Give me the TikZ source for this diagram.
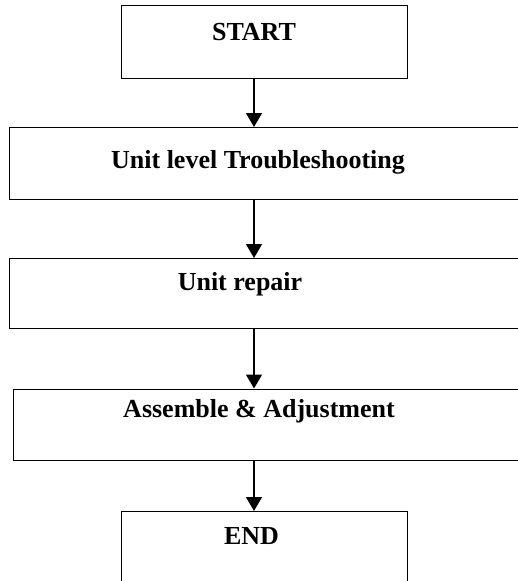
\documentclass[tikz,border=0pt]{standalone}
\usepackage{fontspec}
\setmainfont{Liberation Serif}
\usetikzlibrary{positioning,arrows.meta}
\tikzset{
  stepbox/.style={draw=black, line width=1.4pt, inner sep=0pt, anchor=north west},
  steplabel/.style={font=\fontsize{26}{30}\selectfont\bfseries, inner sep=0pt, anchor=base},
  flowarrow/.style={line width=1.4pt, -{Triangle[width=16pt,length=14pt]}}
}

\begin{document}
\begin{tikzpicture}[x=1pt, y=-1pt]
    \useasboundingbox (0,0) rectangle (518,581);
    \clip (0,0) rectangle (518,581);
    \coordinate (axis) at (254,0);
    \node[stepbox, minimum width=286pt, minimum height=73pt] (start) at (121,5) {};
    \node[stepbox, minimum width=530pt, minimum height=72pt] (trouble) at (9,127) {};
    \node[stepbox, minimum width=530pt, minimum height=70pt] (repair) at (9,258) {};
    \node[stepbox, minimum width=530pt, minimum height=71.5pt] (assemble) at (12.5,388.5) {};
    \node[stepbox, minimum width=286pt, minimum height=90pt] (finish) at (121,511) {};
    \node[steplabel] (startlabel) at (254,40) {START};
    \node[steplabel] (troublelabel) at (258,168.5) {Unit level Troubleshooting};
    \node[steplabel] (repairlabel) at (240,290) {Unit repair};
    \node[steplabel] (assemblelabel) at (259,417) {Assemble \& Adjustment};
    \node[steplabel] (finishlabel) at (251.5,544) {END};
    \draw[flowarrow] (start.south -| axis) -- (trouble.north -| axis);
    \draw[flowarrow] (trouble.south -| axis) -- (repair.north -| axis);
    \draw[flowarrow] (repair.south -| axis) -- (assemble.north -| axis);
    \draw[flowarrow] (assemble.south -| axis) -- (finish.north -| axis);
  \end{tikzpicture}
\end{document}
